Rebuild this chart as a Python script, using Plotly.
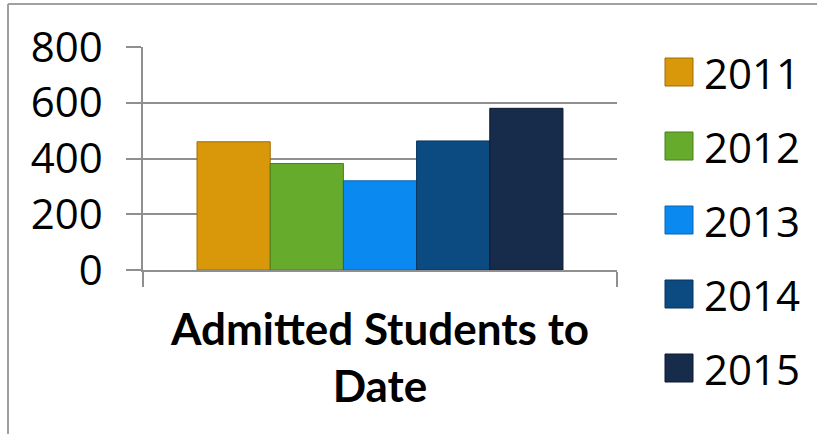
import plotly.graph_objects as go

categories = ["Admitted Students to<br>Date"]
years = ["2011", "2012", "2013", "2014", "2015"]
values = [460, 382, 320, 463, 580]
colors = ["#D9980A", "#66AB2C", "#0A8AF0", "#0C4A82", "#172B4B"]
edge_colors = ["#9E6D05", "#4A7F1E", "#0865B0", "#07345C", "#0C1A30"]
y_ticks = [0, 200, 400, 600, 800]

W, H = 817, 434
L, R, T, B = 143, 200, 47, 164
PW, PH = W - L - R, H - T - B

def px_x(p):
    return (p - L) / PW

def px_y(p):
    return (H - B - p) / PH

fig = go.Figure()
for yr, v, c, ec in zip(years, values, colors, edge_colors):
    fig.add_trace(go.Bar(
        x=categories, y=[v], name=yr,
        marker=dict(color=c, line=dict(color=ec, width=1)),
        showlegend=False,
    ))

FONT = "Open Sans"
GRID = "#8F8F8F"

fig.update_layout(
    width=W, height=H,
    margin=dict(l=L, r=R, t=T, b=B, pad=0),
    paper_bgcolor="white", plot_bgcolor="white",
    barmode="group", bargap=0.228, bargroupgap=0,
    font=dict(family=FONT, color="black"),
)
fig.update_yaxes(
    range=[0, 800], tickvals=y_ticks, ticktext=[str(t) for t in y_ticks],
    showgrid=True, gridcolor=GRID, gridwidth=1.5,
    showline=True, linecolor=GRID, linewidth=1.5,
    ticks="outside", ticklen=15, tickcolor=GRID, tickwidth=1.5,
    tickfont=dict(family=FONT, size=42, color="black"),
    ticklabelstandoff=15, zeroline=False, fixedrange=True,
)
fig.update_xaxes(
    showline=True, linecolor=GRID, linewidth=1.5,
    ticks="outside", tickson="boundaries", ticklen=15, tickcolor=GRID, tickwidth=1.5,
    tickfont=dict(family="Lato", size=44, color="black", weight="bold"),
    ticklabelstandoff=20, showgrid=False, fixedrange=True,
)

# outer chart border (left and top edges visible)
fig.add_shape(type="line", xref="paper", yref="paper",
              x0=px_x(8), x1=px_x(W + 5), y0=px_y(4), y1=px_y(4),
              line=dict(color="#A0A0A0", width=2))
fig.add_shape(type="line", xref="paper", yref="paper",
              x0=px_x(8), x1=px_x(8), y0=px_y(4), y1=px_y(H + 5),
              line=dict(color="#A0A0A0", width=2))

# legend
leg_y0, leg_step = 72, 74
for i, (yr, c, ec) in enumerate(zip(years, colors, edge_colors)):
    cy = leg_y0 + i * leg_step
    fig.add_shape(type="rect", xref="paper", yref="paper",
                  x0=px_x(665), x1=px_x(693), y0=px_y(cy + 14), y1=px_y(cy - 14),
                  fillcolor=c, line=dict(color=ec, width=1))
    fig.add_annotation(xref="paper", yref="paper", x=px_x(702), y=px_y(cy),
                       text=yr, showarrow=False, xanchor="left", yanchor="middle",
                       font=dict(family=FONT, size=42, color="black"))

fig.write_html("out.html", config={"displayModeBar": False},
               post_script="document.body.style.margin='0';document.body.style.overflow='hidden';")
